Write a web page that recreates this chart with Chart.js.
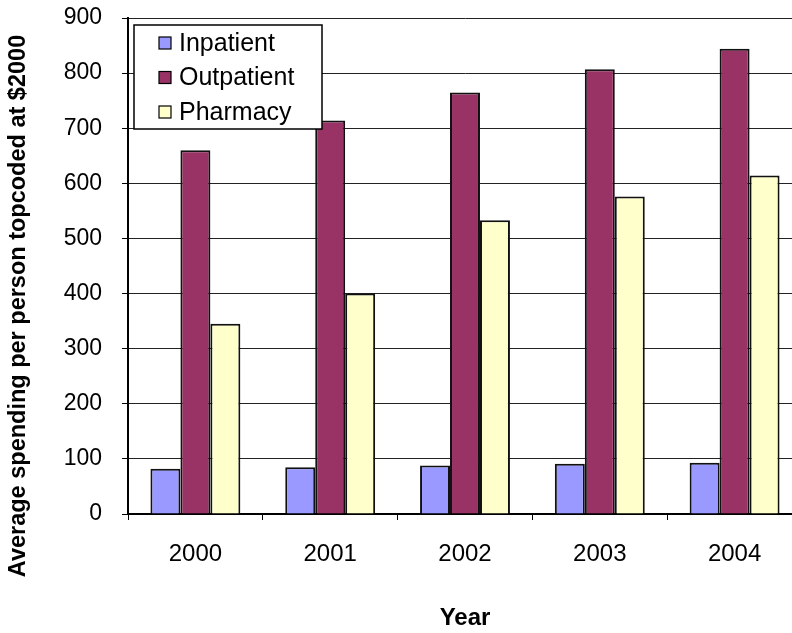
<!DOCTYPE html>
<html>
<head>
<meta charset="utf-8">
<script src="https://cdn.jsdelivr.net/npm/chart.js@4/dist/chart.umd.min.js"></script>
<style>
  html, body { margin: 0; padding: 0; background: #fff; overflow: hidden; }
  #wrap { width: 803px; height: 633px; }
</style>
</head>
<body>
<div id="wrap"><canvas id="myChart" width="803" height="633"></canvas></div>
<script>
var years = ['2000', '2001', '2002', '2003', '2004'];
var inpatient = [82, 85, 88, 91, 93];
var outpatient = [660, 714, 765, 807, 844];
var pharmacy = [345, 400, 533, 576, 614];
var yTitle = 'Average spending per person topcoded at $2000';

var FONT = '"Liberation Sans", Arial, sans-serif';

// legend box drawn inside the plot area, over the bars
var boxLegend = {
    id: 'boxLegend',
    afterDatasetsDraw: function(chart) {
        var c = chart.ctx, a = chart.chartArea;
        var x = a.left + 6, y = a.top + 7, w = 188, h = 104;
        c.save();
        c.fillStyle = '#fff';
        c.fillRect(x, y, w, h);
        c.strokeStyle = '#000';
        c.lineWidth = 1.5;
        c.strokeRect(x, y, w, h);
        c.font = '25px ' + FONT;
        c.textBaseline = 'middle';
        chart.data.datasets.forEach(function(ds, i) {
            var cy = y + 18 + i * 34.5;
            c.fillStyle = ds.backgroundColor;
            c.fillRect(x + 25, cy - 6, 12, 12);
            c.lineWidth = 1.2;
            c.strokeRect(x + 25, cy - 6, 12, 12);
            c.fillStyle = '#000';
            c.fillText(ds.label, x + 45, cy + 1);
        });
        c.restore();
    }
};

// y axis title sits lower than the plot centre in the original
var sideTitle = {
    id: 'sideTitle',
    afterDraw: function(chart) {
        var c = chart.ctx;
        c.save();
        c.translate(19, 306);
        c.rotate(-Math.PI / 2);
        c.font = 'bold 23.5px ' + FONT;
        c.fillStyle = '#000';
        c.textAlign = 'center';
        c.textBaseline = 'middle';
        c.fillText(yTitle, 0, 0);
        c.restore();
    }
};

var ctx = document.getElementById('myChart').getContext('2d');
var myChart = new Chart(ctx, {
    type: 'bar',
    data: {
        labels: years,
        datasets: [{
            label: 'Inpatient',
            data: inpatient,
            backgroundColor: '#9999FF',
            borderColor: '#111',
            borderWidth: 2
        }, {
            label: 'Outpatient',
            data: outpatient,
            backgroundColor: '#993366',
            borderColor: '#111',
            borderWidth: 2
        }, {
            label: 'Pharmacy',
            data: pharmacy,
            backgroundColor: '#FFFFCC',
            borderColor: '#111',
            borderWidth: 2
        }]
    },
    options: {
        responsive: false,
        animation: false,
        categoryPercentage: 0.667,
        barPercentage: 1.0,
        layout: { padding: { top: 18, right: 1, left: 0, bottom: 0 } },
        plugins: {
            legend: { display: false },
            tooltip: { enabled: false }
        },
        scales: {
            y: {
                min: 0,
                max: 900,
                ticks: {
                    stepSize: 100,
                    color: '#000',
                    padding: 20,
                    font: { family: FONT, size: 23 }
                },
                grid: { color: '#222', lineWidth: 1, tickLength: 6, tickColor: '#000' },
                border: { color: '#000', width: 2 },
                afterFit: function(scale) {
                    scale.width = 128;
                    scale.paddingTop = 0;
                    scale.paddingBottom = 0;
                }
            },
            x: {
                ticks: {
                    color: '#000',
                    padding: 20,
                    font: { family: FONT, size: 24 }
                },
                grid: { drawOnChartArea: false, tickLength: 6, color: '#000', offset: true },
                border: { color: '#000', width: 2 },
                title: {
                    display: true,
                    text: 'Year',
                    color: '#000',
                    padding: { top: 0, bottom: 0 },
                    font: { family: FONT, size: 24, weight: 'bold' }
                },
                afterFit: function(scale) { scale.height = 119; }
            }
        }
    },
    plugins: [boxLegend, sideTitle]
});
</script>
</body>
</html>
